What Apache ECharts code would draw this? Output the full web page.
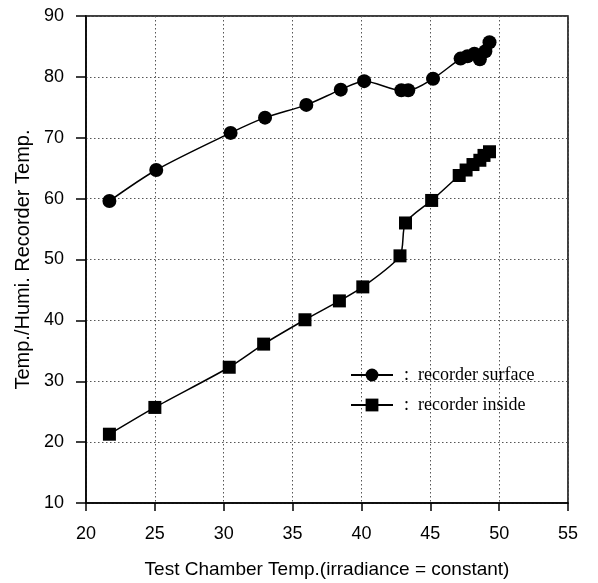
<!DOCTYPE html>
<html>
<head>
<meta charset="utf-8">
<script src="https://cdn.jsdelivr.net/npm/echarts@6/dist/echarts.min.js"></script>
<style>
  html, body { margin: 0; padding: 0; background: #fff; }
  #chart { width: 598px; height: 583px; }
</style>
</head>
<body>
<div id="chart"></div>
<script>
// Chamber temperature (x) and recorder temperatures (y)
const surfaceX = [21.7, 25.1, 30.5, 33.0, 36.0, 38.5, 40.2, 42.9, 43.4, 45.2, 47.2, 47.7, 48.2, 48.6, 49.0, 49.3];
const surfaceY = [59.6, 64.7, 70.8, 73.3, 75.4, 77.9, 79.3, 77.8, 77.8, 79.7, 83.0, 83.4, 83.8, 82.9, 84.2, 85.7];
const insideX  = [21.7, 25.0, 30.4, 32.9, 35.9, 38.4, 40.1, 42.8, 43.2, 45.1, 47.1, 47.6, 48.1, 48.6, 48.9, 49.3];
const insideY  = [21.3, 25.7, 32.3, 36.1, 40.1, 43.2, 45.5, 50.6, 56.0, 59.7, 63.8, 64.7, 65.6, 66.3, 67.1, 67.7];
const xTicks = [20, 25, 30, 35, 40, 45, 50, 55];
const yTicks = [10, 20, 30, 40, 50, 60, 70, 80, 90];

const pairs = (xs, ys) => xs.map((x, i) => [x, ys[i]]);
const sans = 'Liberation Sans, Arial, sans-serif';
const serif = 'Liberation Serif, Times New Roman, serif';

const chart = echarts.init(document.getElementById('chart'), null, { renderer: 'canvas' });
chart.setOption({
  animation: false,
  backgroundColor: '#ffffff',
  grid: {
    left: 86, right: 30, top: 16, bottom: 80,
    containLabel: false, outerBoundsMode: 'none',
    show: true, borderColor: '#000', borderWidth: 1.5, backgroundColor: 'transparent'
  },
  legend: {
    orient: 'vertical',
    left: 345,
    top: 361,
    itemWidth: 42,
    itemHeight: 16,
    itemGap: 12,
    data: ['recorder surface', 'recorder inside'],
    formatter: name => ':  ' + name,
    textStyle: { fontFamily: serif, fontSize: 18, color: '#000', padding: [0, 0, 0, 6] }
  },
  xAxis: {
    type: 'value',
    min: xTicks[0], max: xTicks[xTicks.length - 1], interval: 5,
    name: 'Test Chamber Temp.(irradiance = constant)',
    nameLocation: 'middle', nameGap: 57,
    nameTextStyle: { fontFamily: sans, fontSize: 19, color: '#000' },
    axisLine: { show: true, lineStyle: { color: '#000', width: 1.5 } },
    axisTick: { show: true, inside: false, length: 8, lineStyle: { color: '#000', width: 1.5 } },
    axisLabel: { fontFamily: sans, fontSize: 18, color: '#000', margin: 22 },
    splitLine: { show: true, lineStyle: { color: '#555', type: [1.5, 2.5], width: 1 } }
  },
  yAxis: {
    type: 'value',
    min: yTicks[0], max: yTicks[yTicks.length - 1], interval: 10,
    name: 'Temp./Humi. Recorder Temp.',
    nameLocation: 'middle', nameGap: 53,
    nameTextStyle: { fontFamily: sans, fontSize: 20, color: '#000' },
    axisLine: { show: true, lineStyle: { color: '#000', width: 1.5 } },
    axisTick: { show: true, inside: false, length: 10, lineStyle: { color: '#000', width: 1.5 } },
    axisLabel: { fontFamily: sans, fontSize: 18, color: '#000', margin: 22 },
    splitLine: { show: true, lineStyle: { color: '#555', type: [1.5, 2.5], width: 1 } }
  },
  series: [
    {
      name: 'recorder surface',
      type: 'line',
      data: pairs(surfaceX, surfaceY),
      smooth: 0.3,
      symbol: 'circle',
      symbolSize: 14,
      itemStyle: { color: '#000' },
      lineStyle: { color: '#000', width: 1.5 }
    },
    {
      name: 'recorder inside',
      type: 'line',
      data: pairs(insideX, insideY),
      smooth: 0.25,
      symbol: 'rect',
      symbolSize: 13,
      itemStyle: { color: '#000' },
      lineStyle: { color: '#000', width: 1.5 }
    }
  ]
});
</script>
</body>
</html>
